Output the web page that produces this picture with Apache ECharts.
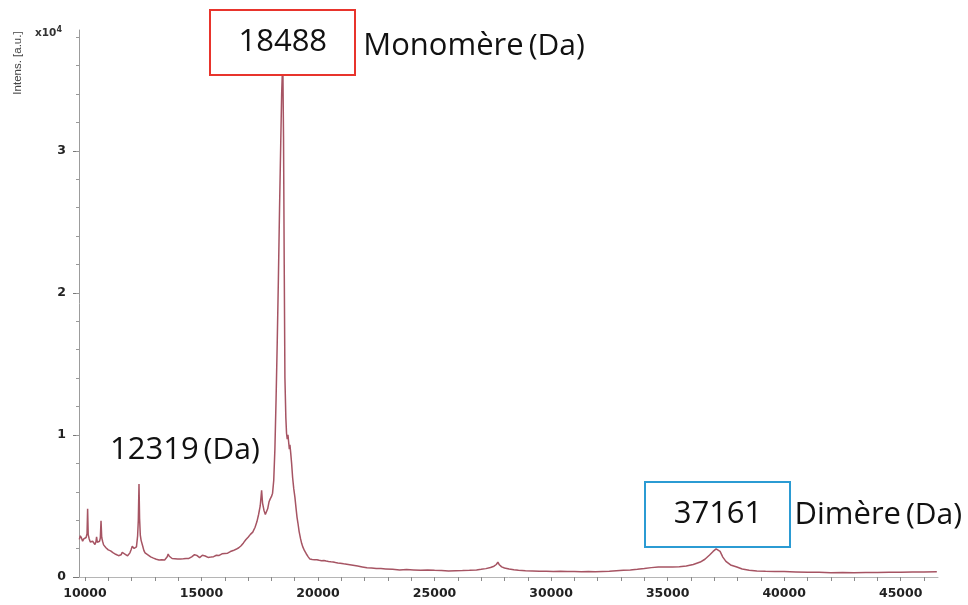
<!DOCTYPE html>
<html>
<head>
<meta charset="utf-8">
<title>Spectre de masse</title>
<script src="https://cdn.jsdelivr.net/npm/echarts@6/dist/echarts.min.js"></script>
<style>
  html, body { margin: 0; padding: 0; background: #ffffff; }
  #chart { width: 968px; height: 605px; }
</style>
</head>
<body>
<div id="chart"></div>
<script>
// MALDI-TOF spectrum: [m/z (Da), intensity (a.u.)]
const spectrum = [
  [9760, 2650], [9800, 2900], [9850, 2750], [9900, 2520], [9950, 2680], [10000, 2560],
  [10050, 2780], [10090, 3050], [10115, 4800], [10140, 2980], [10180, 2700], [10230, 2460],
  [10280, 2340], [10330, 2520], [10380, 2400], [10430, 2290], [10470, 2460], [10500, 2820],
  [10530, 2450], [10580, 2340], [10630, 2520], [10660, 2750], [10690, 3950], [10720, 2780],
  [10760, 2500], [10800, 2260], [10850, 2140], [10900, 2060], [10950, 1940], [11000, 1910],
  [11050, 2010], [11100, 1840], [11150, 1760], [11200, 1720], [11260, 1650], [11320, 1600],
  [11380, 1560], [11440, 1500], [11500, 1470], [11550, 1560], [11600, 1730], [11640, 1860],
  [11680, 1700], [11730, 1600], [11780, 1520], [11830, 1490], [11880, 1580], [11930, 1700],
  [11980, 1920], [12030, 2160], [12070, 2260], [12110, 2010], [12160, 1960], [12210, 2120],
  [12260, 2900], [12290, 4000], [12319, 6550], [12345, 4100], [12375, 2950], [12410, 2580],
  [12440, 2520], [12480, 2160], [12530, 1860], [12580, 1700], [12640, 1620], [12700, 1560],
  [12760, 1480], [12820, 1420], [12880, 1390], [12940, 1330], [13000, 1300], [13060, 1250],
  [13120, 1230], [13180, 1200], [13240, 1240], [13300, 1210], [13360, 1250], [13420, 1200],
  [13480, 1280], [13530, 1430], [13570, 1620], [13620, 1460], [13680, 1350], [13740, 1300],
  [13800, 1330], [13860, 1280], [13920, 1310], [13980, 1260], [14040, 1300], [14100, 1270],
  [14160, 1320], [14220, 1280], [14280, 1250], [14340, 1300], [14400, 1260], [14460, 1310],
  [14520, 1350], [14580, 1420], [14640, 1500], [14700, 1570], [14750, 1630], [14800, 1520],
  [14860, 1420], [14920, 1360], [14980, 1410], [15040, 1530], [15100, 1610], [15160, 1480],
  [15220, 1400], [15280, 1380], [15340, 1430], [15400, 1400], [15460, 1450], [15520, 1430],
  [15580, 1500], [15640, 1530], [15700, 1560], [15760, 1520], [15820, 1590], [15880, 1630],
  [15940, 1600], [16000, 1660], [16060, 1700], [16120, 1680], [16180, 1730], [16240, 1790],
  [16300, 1800], [16360, 1860], [16420, 1920], [16480, 1950], [16540, 2000], [16600, 2060],
  [16700, 2200], [16800, 2400], [16900, 2620], [17000, 2800], [17100, 3000], [17200, 3160],
  [17300, 3500], [17380, 3900], [17450, 4400], [17520, 5000], [17580, 6100], [17620, 5200],
  [17680, 4700], [17740, 4400], [17790, 4350], [17840, 4800], [17900, 5300], [17950, 5500],
  [18000, 5650], [18050, 5900], [18100, 6800], [18150, 9000], [18200, 12500], [18250, 16500],
  [18300, 21000], [18350, 26000], [18400, 30500], [18440, 34000], [18488, 36500], [18520, 31000],
  [18550, 22000], [18580, 14000], [18620, 11200], [18650, 10100], [18680, 9700], [18710, 10000],
  [18740, 9500], [18770, 9000], [18795, 9300], [18830, 8700], [18867, 8000], [18910, 7000],
  [18960, 6200], [19009, 5600], [19060, 4800], [19100, 4200], [19138, 3800], [19190, 3200],
  [19250, 2700], [19300, 2350], [19352, 2100], [19420, 1850], [19500, 1620], [19580, 1420],
  [19653, 1260], [19750, 1230], [19850, 1210], [19950, 1220], [20050, 1180], [20150, 1150],
  [20250, 1160], [20350, 1120], [20450, 1090], [20550, 1070], [20650, 1060], [20750, 1020],
  [20850, 990], [20950, 970], [21100, 930], [21300, 880], [21500, 830], [21700, 770],
  [21900, 710], [22100, 650], [22300, 630], [22500, 600], [22700, 590], [22900, 570],
  [23200, 540], [23500, 500], [23800, 520], [24100, 500], [24400, 480], [24700, 500],
  [25000, 470], [25300, 450], [25600, 430], [25900, 440], [26200, 450], [26500, 470],
  [26800, 500], [27000, 540], [27200, 590], [27400, 670], [27550, 760], [27650, 880],
  [27717, 1050], [27780, 860], [27880, 710], [28000, 630], [28200, 560], [28400, 510],
  [28600, 470], [28900, 440], [29200, 420], [29500, 400], [29800, 410], [30100, 390],
  [30400, 400], [30700, 380], [31000, 390], [31300, 370], [31600, 390], [31900, 370],
  [32200, 390], [32500, 410], [32800, 440], [33100, 470], [33400, 500], [33700, 540],
  [34000, 590], [34300, 660], [34600, 710], [34900, 700], [35200, 710], [35500, 720],
  [35800, 780], [36100, 880], [36400, 1050], [36600, 1250], [36800, 1550], [36950, 1800],
  [37080, 1980], [37161, 2050], [37250, 1800], [37368, 1400], [37500, 1100], [37700, 850],
  [37969, 700], [38200, 560], [38500, 470], [38827, 420], [39200, 400], [39600, 390],
  [40000, 380], [40500, 360], [41000, 340], [41500, 330], [42000, 300], [42500, 310],
  [43000, 300], [43500, 320], [44000, 310], [44500, 330], [45000, 340], [45500, 350],
  [46000, 360], [46550, 370]
];

// Annotated peaks (Da)
const monomerMass = 18488;
const dimerMass = 37161;
const minorMass = 12319;

// Axis ticks
const xLabelValues = [10000, 15000, 20000, 25000, 30000, 35000, 40000, 45000];
const xTickValues = [];
for (let v = 10000; v <= 46000; v += 1000) xTickValues.push(v);
const yLabelValues = [0, 10000, 20000, 30000];
const yMinorValues = [];
for (let v = 2000; v <= 38000; v += 2000) yMinorValues.push(v);

const axisGrey = '#9c9c9c';
const tickFont = { fontFamily: 'DejaVu Sans', fontWeight: 'bold', fontSize: 12.5, color: '#222' };

const chart = echarts.init(document.getElementById('chart'), null, { renderer: 'canvas' });

chart.setOption({
  animation: false,
  backgroundColor: '#ffffff',
  grid: { left: 79, right: 30, top: 30, bottom: 28, containLabel: false },
  xAxis: {
    type: 'value',
    min: 9745,
    max: 46600,
    axisLine: { show: true, lineStyle: { color: '#b5b5b5', width: 1 } },
    axisTick: { show: true, customValues: xTickValues, length: 4, lineStyle: { color: '#8a8a8a' } },
    axisLabel: Object.assign({
      customValues: xLabelValues,
      margin: 10,
      formatter: v => String(v)
    }, tickFont),
    splitLine: { show: false }
  },
  yAxis: [
    {
      type: 'value',
      position: 'left',
      min: 0,
      max: 38500,
      axisLine: { show: true, lineStyle: { color: axisGrey, width: 1 } },
      axisTick: { show: true, customValues: yLabelValues, length: 6, lineStyle: { color: '#777' } },
      axisLabel: Object.assign({
        customValues: yLabelValues,
        margin: 13,
        formatter: v => String(v / 10000)
      }, tickFont),
      splitLine: { show: false }
    },
    {
      type: 'value',
      position: 'left',
      min: 0,
      max: 38500,
      axisLine: { show: false },
      axisTick: { show: true, customValues: yMinorValues, length: 3, lineStyle: { color: '#999' } },
      axisLabel: { show: false },
      splitLine: { show: false }
    }
  ],
  series: [{
    type: 'line',
    data: spectrum,
    yAxisIndex: 0,
    showSymbol: false,
    symbol: 'none',
    sampling: null,
    lineStyle: { color: '#a65463', width: 1.5 },
    z: 2
  }]
});

// Annotations anchored on the peak positions
const px = m => chart.convertToPixel({ xAxisIndex: 0 }, m);
const labelFont = 'Open Sans';
const boxW = 145, boxH = 65;

const richParts = {
  w: { fontFamily: labelFont, fontSize: 31, fill: '#111' },
  d: { fontFamily: labelFont, fontSize: 30, fill: '#111', padding: [0, 0, 0, 5] }
};

function peakBox(mass, top, color) {
  const cx = px(mass);
  return [
    {
      type: 'rect',
      shape: { x: Math.round(cx - boxW / 2), y: top, width: boxW, height: boxH },
      style: { fill: '#ffffff', stroke: color, lineWidth: 2 },
      z: 10
    },
    {
      type: 'text',
      x: cx, y: top + boxH / 2,
      style: {
        text: String(mass), fontFamily: labelFont, fontSize: 31, fill: '#111',
        align: 'center', verticalAlign: 'middle'
      },
      z: 11
    }
  ];
}

function nameText(x, y, word) {
  return {
    type: 'text',
    x: x, y: y,
    style: {
      text: '{w|' + word + '}{d|(Da)}',
      align: 'left', verticalAlign: 'middle',
      rich: richParts
    },
    z: 11
  };
}

const monoX = px(monomerMass);
const dimerX = px(dimerMass);
const minorX = px(minorMass);

chart.setOption({
  graphic: [
    ...peakBox(monomerMass, 10, '#e8342c'),
    nameText(monoX + boxW / 2 + 8, 46, 'Monomère'),
    ...peakBox(dimerMass, 482, '#2b9bd3'),
    nameText(dimerX + boxW / 2 + 4, 515, 'Dimère'),
    nameText(minorX - 29, 450, String(minorMass)),
    {
      type: 'text',
      x: 18, y: 63,
      rotation: Math.PI / 2,
      style: {
        text: 'Intens. [a.u.]', fontFamily: 'Liberation Sans', fontSize: 11.5, fill: '#444',
        align: 'center', verticalAlign: 'middle'
      }
    },
    {
      type: 'text',
      x: 35, y: 33,
      style: {
        text: '{b|x10}{s|4}',
        align: 'left', verticalAlign: 'middle',
        rich: {
          b: { fontFamily: 'DejaVu Sans', fontWeight: 'bold', fontSize: 10.5, fill: '#333' },
          s: { fontFamily: 'DejaVu Sans', fontWeight: 'bold', fontSize: 8, fill: '#333', verticalAlign: 'top', padding: [0, 0, 6, 0] }
        }
      }
    }
  ]
});
</script>
</body>
</html>
